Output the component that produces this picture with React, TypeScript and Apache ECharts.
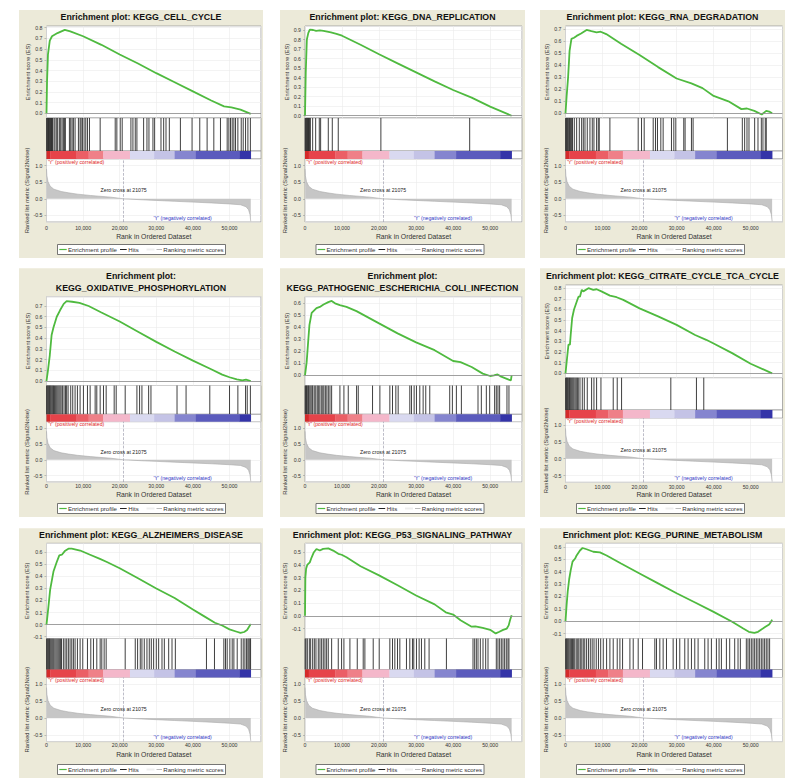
import React, { useEffect, useRef } from "react";
import * as echarts from "echarts";

// ---------------- data ----------------
const ZERO_CROSS = 21075;
const RANK_AXIS_MAX = 58600;

const pathwayTitles: string[][] = [
  ["Enrichment plot: KEGG_CELL_CYCLE"],
  ["Enrichment plot: KEGG_DNA_REPLICATION"],
  ["Enrichment plot: KEGG_RNA_DEGRADATION"],
  ["Enrichment plot:", "KEGG_OXIDATIVE_PHOSPHORYLATION"],
  ["Enrichment plot:", "KEGG_PATHOGENIC_ESCHERICHIA_COLI_INFECTION"],
  ["Enrichment plot: KEGG_CITRATE_CYCLE_TCA_CYCLE"],
  ["Enrichment plot: KEGG_ALZHEIMERS_DISEASE"],
  ["Enrichment plot: KEGG_P53_SIGNALING_PATHWAY"],
  ["Enrichment plot: KEGG_PURINE_METABOLISM"],
];

// running enrichment score: [rank (thousands), ES]
const esCellCycle = [[0,0],[0.15,0.3],[0.4,0.55],[0.9,0.68],[1.5,0.72],[3,0.75],[5,0.78],[6.5,0.765],[10,0.72],[15,0.64],[20,0.55],[25,0.465],[30,0.375],[35,0.29],[40,0.205],[45,0.12],[48.5,0.065],[50.5,0.055],[53,0.035],[55.8,-0.005]];
const esDnaReplication = [[0,0],[0.2,0.45],[0.5,0.8],[0.9,0.87],[1.3,0.905],[2.2,0.9],[3,0.89],[4,0.895],[5,0.89],[7,0.875],[8.5,0.86],[10,0.84],[15,0.745],[20,0.645],[25,0.55],[30,0.455],[35,0.36],[40,0.27],[45,0.19],[50,0.095],[55.8,0]];
const esRnaDegradation = [[0,0],[0.3,0.14],[0.7,0.3],[1.1,0.52],[1.6,0.62],[2.3,0.63],[3,0.645],[4.2,0.665],[5.7,0.695],[7,0.685],[8.4,0.675],[9.5,0.68],[11,0.66],[15,0.58],[20,0.485],[25,0.385],[30,0.29],[34,0.25],[37,0.21],[40,0.145],[44,0.1],[47.5,0.035],[49,0.04],[51,0.02],[53,-0.01],[54.2,0.02],[55,0.015],[55.8,0]];
const esOxidativePhos = [[0,0],[0.4,0.1],[0.9,0.24],[1.4,0.43],[1.9,0.5],[2.8,0.6],[3.7,0.66],[4.7,0.72],[5.5,0.745],[7,0.74],[9,0.73],[11.5,0.7],[15,0.64],[20,0.555],[25,0.46],[30,0.365],[35,0.275],[40,0.19],[45,0.11],[48,0.06],[50,0.035],[52,0.015],[53.5,0.005],[54.5,0.012],[55.8,0]];
const esEcoliInfection = [[0,0],[0.45,0.11],[0.9,0.3],[1.2,0.42],[1.8,0.52],[3.1,0.56],[4,0.57],[5,0.59],[6.3,0.61],[7.2,0.62],[8.1,0.6],[9.4,0.585],[11.2,0.57],[13.9,0.535],[20,0.433],[25,0.35],[30,0.275],[35,0.21],[40,0.12],[42,0.11],[45,0.07],[48,0.015],[50,-0.005],[51,0],[52,0.008],[53,-0.01],[55,-0.035],[55.6,-0.042],[55.8,0]];
const esCitrateCycle = [[0,0],[0.5,0.17],[0.8,0.27],[1.2,0.27],[1.4,0.36],[1.8,0.52],[2.3,0.6],[3,0.67],[3.5,0.72],[3.9,0.72],[4.4,0.785],[4.8,0.77],[6.2,0.8],[7.5,0.785],[8.4,0.79],[9.7,0.77],[12,0.73],[13.8,0.715],[15.6,0.69],[20,0.61],[25,0.535],[30,0.455],[35,0.36],[38,0.315],[40,0.28],[45,0.19],[50,0.09],[55.8,0]];
const esAlzheimers = [[0,0],[0.5,0.14],[1,0.29],[1.9,0.44],[2.8,0.52],[3.5,0.575],[4.2,0.58],[5,0.61],[6,0.63],[6.9,0.63],[9.2,0.615],[11.9,0.58],[14.6,0.545],[16.5,0.52],[20,0.468],[25,0.385],[30,0.3],[35,0.22],[40,0.125],[43,0.07],[46,0.015],[48,-0.008],[50,-0.04],[52,-0.06],[53,-0.07],[54,-0.062],[54.8,-0.045],[55.3,-0.02],[55.8,0.005]];
const esP53Signaling = [[0,0],[0.1,0.3],[0.3,0.37],[0.6,0.4],[1.3,0.42],[1.8,0.46],[2.4,0.5],[3.1,0.525],[4,0.513],[4.9,0.526],[6.3,0.53],[7.6,0.513],[9,0.487],[9.9,0.48],[11.2,0.46],[15,0.39],[20,0.318],[25,0.24],[30,0.16],[35,0.09],[38,0.028],[40,0.01],[42,-0.034],[45,-0.085],[46,-0.083],[48,-0.094],[50,-0.11],[51.5,-0.138],[52.5,-0.125],[53.5,-0.11],[54.5,-0.1],[55,-0.075],[55.4,-0.03],[55.8,0.005]];
const esPurineMetab = [[0,0],[0.3,0.13],[0.6,0.24],[1,0.34],[1.4,0.41],[1.9,0.48],[2.6,0.505],[3,0.53],[3.9,0.57],[4.6,0.59],[5.7,0.58],[7.5,0.56],[9.3,0.555],[11.1,0.53],[15,0.465],[20,0.385],[25,0.305],[30,0.225],[35,0.15],[40,0.075],[45,-0.005],[48,-0.06],[49.5,-0.086],[51,-0.095],[52,-0.086],[53,-0.065],[54,-0.046],[55,-0.027],[55.5,-0.005],[55.8,0.013]];

// gene-set hit positions (rank, thousands)
const hitsCellCycle = [0.05,0.2,0.35,0.5,0.6,0.75,0.9,1.05,1.2,1.35,1.5,1.65,2.05,2.33,2.79,3.06,3.52,3.88,4.25,4.61,4.89,5.16,6.26,6.62,6.99,7.35,7.81,8.72,9.18,9.45,9.82,10.27,10.73,11.19,11.74,14.66,18.77,19.22,20.14,20.68,23.06,23.61,24.25,24.7,26.53,27.44,27.99,29.08,29.54,31.28,32.01,32.65,33.56,36.58,39.77,41.87,43.88,45.71,47.53,49.36,49.82,50.27,50.73,51.19,51.64,52.28,53.2,53.74,54.38,55.02,55.7];
const hitsDnaReplication = [0.05,0.2,0.35,0.5,0.65,0.8,0.95,1.1,1.25,1.45,2.07,2.88,3.86,4.22,6.29,7.37,8.98,20.49,44.47];
const hitsRnaDegradation = [0.05,0.2,0.35,0.5,0.7,0.9,1.1,1.3,1.5,1.7,1.9,2.38,3.01,3.73,4.36,4.81,5.26,5.88,6.6,7.23,7.68,8.4,8.85,9.12,11.99,19.63,20.53,21.25,23.68,24.3,24.84,25.74,26.37,28.62,29.25,29.79,31.94,32.3,34.01,34.46,43.72,47.75,48.38,49.01,49.55,51.08,51.98,52.88,53.32,53.95,54.22];
const hitsOxidativePhos = [0.05,0.2,0.4,0.6,0.8,1.0,1.2,1.45,1.7,1.9,2.2,2.5,2.8,3.1,3.4,3.7,4.0,4.4,4.8,5.2,5.5,5.9,6.62,7.17,7.81,8.45,9.18,10.09,11.19,11.92,13.29,13.74,14.66,15.57,16.3,18.49,19.04,21.5,24.7,25.43,26.07,27.9,28.54,35.66,38.13,44.61,50,52.28,54.38,54.84,55.7];
const hitsEcoliInfection = [0.05,0.2,0.4,0.6,0.85,1.0,1.3,1.6,1.9,2.1,2.5,2.9,3.3,3.6,4.0,4.4,4.8,5.1,5.5,5.9,6.3,6.74,7.19,9.43,10.51,11.68,13.93,14.38,18.24,20.22,22.91,23.63,24.53,25.16,28.3,28.75,29.47,30.1,31.0,31.9,32.61,33.69,39.08,39.8,40.88,42.23,46.72,47.62,48.97,49.87,51.21,51.66,52.11,52.56,54.54,55.08];
const hitsCitrateCycle = [0.05,0.2,0.35,0.5,0.7,0.9,1.1,1.3,1.55,1.8,2.05,2.3,2.6,2.9,3.2,3.45,3.91,4.54,5.08,5.88,7.05,7.68,8.4,9.57,12.89,13.97,15.14,28.44,35.36,37.34];
const hitsAlzheimers = [0.05,0.2,0.4,0.6,0.8,1.0,1.25,1.5,1.75,2.0,2.3,2.6,2.9,3.2,3.5,3.8,4.1,4.61,5.07,5.52,5.98,6.44,6.9,7.35,7.81,8.45,9.18,9.91,11.19,12.1,12.83,13.74,14.66,15.11,15.75,16.3,21.5,24.25,24.89,25.62,26.07,26.71,27.44,28.08,28.63,29.27,30,30.64,31.55,32.19,33.38,34.29,35.2,43.7,45.89,48.45,48.9,49.36,50.09,50.73,51.19,52.1,53.2,53.74,54.2,54.66,55.02,55.3,55.57,55.75];
const hitsP53Signaling = [0.05,0.27,0.63,1.17,1.53,2.07,2.52,2.96,3.59,4.04,4.49,4.94,5.39,5.84,6.29,7.19,8.98,9.88,10.51,12.13,14.11,15.72,16.17,18.42,20.04,22.91,23.63,24.26,24.98,25.61,27.4,28.3,29.02,29.38,30.1,30.82,31.45,32.35,33.51,38.19,45.37,45.82,46.27,46.72,47.35,48.07,48.79,49.42,51.66,52.11,52.56,53.01,53.46,53.91,54.36,54.81,55.08];
const hitsPurineMetab = [0.05,0.25,0.5,0.75,1.0,1.3,1.6,1.9,2.2,2.5,2.9,3.3,3.6,4.0,4.4,4.8,5.2,5.7,6.2,6.7,7.2,7.7,8.3,8.9,9.5,10.2,11.1,11.99,12.89,13.97,14.69,15.41,17.39,18.29,19.63,20.8,24.12,24.57,25.47,26.37,27.27,29.07,29.97,30.86,32.21,33.11,34.01,34.91,35.81,37.6,38.5,39.4,40.75,41.47,42.1,43.45,44.34,45.69,46.59,47.22,48.83,49.28,49.73,50.18,50.63,51.08,51.53,51.98,52.43,52.88,53.32,53.77,54.22,54.67,55.12];

const esSeries = [esCellCycle, esDnaReplication, esRnaDegradation, esOxidativePhos, esEcoliInfection, esCitrateCycle, esAlzheimers, esP53Signaling, esPurineMetab];
const hitSeries = [hitsCellCycle, hitsDnaReplication, hitsRnaDegradation, hitsOxidativePhos, hitsEcoliInfection, hitsCitrateCycle, hitsAlzheimers, hitsP53Signaling, hitsPurineMetab];

// ES axis range [min, max] per panel
const esAxisRanges = [[-0.044, 0.816],[-0.024, 0.942],[-0.039, 0.7275],[-0.042, 0.787],[-0.084, 0.655],[-0.041, 0.83],[-0.116, 0.675],[-0.178, 0.57],[-0.14, 0.628]];

// ranked list metric (signal2noise): [rank (thousands), value]
const metricScores = [[0,0.9],[0.1,0.7],[0.4,0.52],[1,0.38],[2,0.29],[4,0.22],[6,0.18],[8.5,0.14],[12,0.1],[17.5,0.05],[21.075,0],[26,-0.03],[30,-0.05],[35,-0.075],[40,-0.1],[45,-0.125],[50,-0.155],[53,-0.18],[54.5,-0.24],[55.2,-0.33],[55.6,-0.48],[55.8,-0.68]];

// heat bar band edges (rank, thousands)
const bandEdges = [0, 1.0, 8.2, 11.5, 15.5, 22.8, 29.4, 35.0, 40.8, 52.7, 55.8];

const legendLabels = ["Enrichment profile", "Hits", "Ranking metric scores"];
const posLabel = "'Y' (positively correlated)";
const negLabel = "'Y' (negatively correlated)";
const zeroLabel = `Zero cross at ${ZERO_CROSS}`;
const esAxisName = "Enrichment score (ES)";
const metricAxisName = "Ranked list metric (Signal2Noise)";
const rankAxisName = "Rank in Ordered Dataset";

// ---------------- styles / layout ----------------
const bandColors = ["#d42a2a", "#e6434a", "#eb5f66", "#ef8088", "#f4b7ca", "#d9d9f0", "#c4c3e6", "#8585cf", "#5b5bbd", "#3434a8"];
const GREEN = "#4fba3f";
const FONT = "Liberation Sans, Arial, Helvetica, sans-serif";
const BEIGE = "#ecead9";

const colLeft = [46.5, 305, 565.5];
const colWidth = [214.5, 217, 217];
const panelCols = [[19, 263], [280, 525], [540, 785]];
const panelRows = [[10, 258], [268.3, 517], [528.3, 778]];

type Lay = { esTop: number; esBottom: number; colorTop: number; colorBottom: number; metricBottom: number; tickY: number; nameY: number; legendY: number; titleY: number[] };
const row1: Lay = { esTop: 26, esBottom: 118, colorTop: 151, colorBottom: 159, metricBottom: 222, tickY: 227.7, nameY: 236, legendY: 244.5, titleY: [16.7] };
const row2: Lay = { esTop: 296.7, esBottom: 385.5, colorTop: 414.3, colorBottom: 421.7, metricBottom: 482, tickY: 486.3, nameY: 494.3, legendY: 503.5, titleY: [275.7, 288.3] };
const row2c3: Lay = { esTop: 285, esBottom: 377.7, colorTop: 410, colorBottom: 418.3, metricBottom: 482.3, tickY: 486.7, nameY: 494.3, legendY: 503.5, titleY: [275.7] };
const row3: Lay = { esTop: 543.3, esBottom: 638.5, colorTop: 669.5, colorBottom: 677.5, metricBottom: 741.6, tickY: 745.3, nameY: 754.3, legendY: 764.5, titleY: [535] };
const layouts: Lay[] = [row1, row1, row1, row2, row2, row2c3, row3, row3, row3];

const fmtTenth = (v: number) => {
  const r = Math.round(v * 10) / 10;
  return Math.abs(v - r) < 1e-6 ? r.toFixed(1) : "";
};
const fmtHalf = (v: number) => {
  const r = Math.round(v * 2) / 2;
  return Math.abs(v - r) < 1e-6 ? r.toFixed(1) : "";
};
const fmtRank = (v: number) => {
  if (Math.abs(v % 10000) > 1e-6 || v > 50000) return "";
  return String(Math.round(v)).replace(/\B(?=(\d{3})+(?!\d))/g, ",");
};

const renderHit = (params: any, api: any) => {
  const cs = params.coordSys;
  const x = api.coord([api.value(0), 0.5])[0];
  return {
    type: "line",
    shape: { x1: x, y1: cs.y, x2: x, y2: cs.y + cs.height },
    style: { stroke: "#2a2a2a", lineWidth: 0.9 },
  };
};
const renderBand = (params: any, api: any) => {
  const cs = params.coordSys;
  const x0 = api.coord([api.value(0), 0.5])[0];
  const x1 = api.coord([api.value(1), 0.5])[0];
  return {
    type: "rect",
    shape: { x: x0, y: cs.y, width: x1 - x0 + 0.3, height: cs.height },
    style: { fill: api.visual("color") },
  };
};

function txt(text: string, x: number, y: number, size: number, opts: any = {}) {
  const align = opts.align || "left";
  return {
    type: "text",
    z: 20,
    style: {
      text, x, y,
      fill: opts.fill || "#333",
      fontSize: size,
      fontFamily: FONT,
      fontWeight: opts.bold ? "bold" : "normal",
      align, textAlign: align,
      verticalAlign: "middle", textVerticalAlign: "middle",
    },
  };
}

function buildOption() {
  const grid: any[] = [];
  const xAxis: any[] = [];
  const yAxis: any[] = [];
  const series: any[] = [];
  const graphic: any[] = [];

  // beige panels
  panelRows.forEach(([t, b]) => {
    panelCols.forEach(([l, r]) => {
      graphic.push({ type: "rect", z: -10, shape: { x: l, y: t, width: r - l, height: b - t }, style: { fill: BEIGE } });
    });
  });

  const gridBase = { show: true, backgroundColor: "#fff", borderColor: "#9a9a9a", borderWidth: 0.8, outerBoundsMode: "none", containLabel: false };
  const faint = { show: true, lineStyle: { color: "#ebebeb", width: 0.6 } };

  pathwayTitles.forEach((titleLines, i) => {
    const col = i % 3;
    const L = colLeft[col];
    const W = colWidth[col];
    const lay = layouts[i];
    const g = i * 4;
    const [esMin, esMax] = esAxisRanges[i];

    grid.push(
      { ...gridBase, left: L, top: lay.esTop, width: W, height: lay.esBottom - lay.esTop },
      { ...gridBase, left: L, top: lay.esBottom, width: W, height: lay.colorTop - lay.esBottom },
      { ...gridBase, left: L, top: lay.colorTop, width: W, height: lay.colorBottom - lay.colorTop },
      { ...gridBase, left: L, top: lay.colorBottom, width: W, height: lay.metricBottom - lay.colorBottom }
    );

    for (let k = 0; k < 4; k++) {
      const isMetric = k === 3;
      xAxis.push({
        type: "value",
        gridIndex: g + k,
        min: 0,
        max: RANK_AXIS_MAX,
        interval: 10000,
        axisLine: { show: false },
        axisTick: { show: false },
        splitLine: k === 0 || k === 3 ? faint : { show: false },
        axisLabel: isMetric
          ? { show: true, fontSize: 5.2, color: "#333", fontFamily: FONT, margin: Math.max(0.5, lay.tickY - lay.metricBottom - 2.6), formatter: fmtRank }
          : { show: false },
        name: isMetric ? rankAxisName : "",
        nameLocation: "middle",
        nameGap: lay.nameY - lay.metricBottom - 3.5,
        nameTextStyle: { fontSize: 6.8, color: "#333", fontFamily: FONT },
      });
    }

    yAxis.push(
      {
        type: "value", gridIndex: g, min: esMin, max: esMax, splitNumber: 8,
        axisLine: { show: false },
        axisTick: { show: true, length: 2, lineStyle: { color: "#999", width: 0.6 } },
        splitLine: faint,
        axisLabel: { fontSize: 5.2, color: "#333", fontFamily: FONT, margin: 4, formatter: fmtTenth, showMinLabel: false, showMaxLabel: false },
        name: esAxisName, nameLocation: "middle", nameGap: 14,
        nameTextStyle: { fontSize: 5.6, color: "#333", fontFamily: FONT },
      },
      { type: "value", gridIndex: g + 1, min: 0, max: 1, show: false },
      { type: "value", gridIndex: g + 2, min: 0, max: 1, show: false },
      {
        type: "value", gridIndex: g + 3, min: -0.7, max: 1.2, splitNumber: 4,
        axisLine: { show: false },
        axisTick: { show: true, length: 2, lineStyle: { color: "#999", width: 0.6 } },
        splitLine: faint,
        axisLabel: { fontSize: 5.2, color: "#333", fontFamily: FONT, margin: 4, formatter: fmtHalf, showMinLabel: false, showMaxLabel: false },
        name: metricAxisName, nameLocation: "middle", nameGap: 16,
        nameTextStyle: { fontSize: 5.8, color: "#333", fontFamily: FONT },
      }
    );

    // enrichment profile
    series.push({
      type: "line",
      xAxisIndex: g, yAxisIndex: g,
      data: esSeries[i].map(([r, v]) => [r * 1000, v]),
      showSymbol: false, symbol: "none",
      lineStyle: { color: GREEN, width: 1.8 },
      z: 4,
      markLine: {
        silent: true, symbol: ["none", "none"], animation: false,
        label: { show: false },
        lineStyle: { color: "#8a8a8a", width: 0.8, type: "solid" },
        data: [{ yAxis: 0 }],
      },
    });

    // hits
    series.push({
      type: "custom",
      xAxisIndex: g + 1, yAxisIndex: g + 1,
      data: hitSeries[i].map((r) => [r * 1000, 0.5]),
      encode: { x: 0, y: 1 },
      renderItem: renderHit,
      silent: true,
    });

    // heat bar
    const bands = bandColors.map((c, b) => ({ value: [bandEdges[b] * 1000, bandEdges[b + 1] * 1000, 0.5], itemStyle: { color: c } }));
    series.push({
      type: "custom",
      xAxisIndex: g + 2, yAxisIndex: g + 2,
      data: bands,
      encode: { x: [0, 1], y: 2 },
      renderItem: renderBand,
      silent: true,
    });

    // ranked list metric
    const markLabel = (text: string, coord: number[], position: string, color: string) => ({
      coord, value: 0, symbol: "circle", symbolSize: 1,
      itemStyle: { color: "rgba(0,0,0,0)" },
      label: { show: true, formatter: text, position, distance: 0, fontSize: 5.2, color, fontFamily: FONT },
    });
    series.push({
      type: "line",
      xAxisIndex: g + 3, yAxisIndex: g + 3,
      data: metricScores.map(([r, v]) => [r * 1000, v]),
      showSymbol: false, symbol: "none",
      lineStyle: { color: "#a9a9a9", width: 0.6 },
      areaStyle: { color: "#c6c6c6", opacity: 1 },
      markLine: {
        silent: true, symbol: ["none", "none"], animation: false,
        label: { show: false },
        lineStyle: { color: "#a0a0b0", width: 0.7, type: "dashed" },
        data: [{ xAxis: ZERO_CROSS }],
      },
      markPoint: {
        silent: true, animation: false,
        data: [
          markLabel(posLabel, [300, 1.12], "right", "#e02626"),
          markLabel(zeroLabel, [ZERO_CROSS, 0.26], "inside", "#222"),
          markLabel(negLabel, [45300, -0.57], "left", "#2f35c4"),
        ],
      },
    });

    // title
    const pc = panelCols[col];
    const cx = (pc[0] + pc[1]) / 2;
    titleLines.forEach((line, li) => {
      graphic.push(txt(line, cx, lay.titleY[li], 8.8, { bold: true, align: "center", fill: "#111" }));
    });

    // legend
    const ly = lay.legendY;
    const cy = ly + 5;
    graphic.push({ type: "rect", z: 18, shape: { x: L + 11, y: ly, width: 168, height: 10 }, style: { fill: "#fff", stroke: "#555", lineWidth: 0.8 } });
    graphic.push({ type: "line", z: 19, shape: { x1: L + 12.8, y1: cy, x2: L + 20.2, y2: cy }, style: { stroke: GREEN, lineWidth: 1.2 } });
    graphic.push(txt(legendLabels[0], L + 21.4, cy, 6.1));
    graphic.push({ type: "line", z: 19, shape: { x1: L + 73.5, y1: cy, x2: L + 80.2, y2: cy }, style: { stroke: "#222", lineWidth: 1 } });
    graphic.push(txt(legendLabels[1], L + 81.8, cy, 6.1));
    graphic.push({ type: "line", z: 19, shape: { x1: L + 100, y1: cy, x2: L + 108, y2: cy }, style: { stroke: "#eeeeee", lineWidth: 2 } });
    graphic.push({ type: "line", z: 19, shape: { x1: L + 110, y1: cy, x2: L + 115.5, y2: cy }, style: { stroke: "#bbbbbb", lineWidth: 1 } });
    graphic.push(txt(legendLabels[2], L + 116.8, cy, 6.1));
  });

  return {
    animation: false,
    backgroundColor: "#ffffff",
    textStyle: { fontFamily: FONT },
    grid, xAxis, yAxis, series, graphic,
  };
}

export default function App() {
  const ref = useRef<HTMLDivElement>(null);
  useEffect(() => {
    if (!ref.current) return;
    const chart = echarts.init(ref.current, undefined, { renderer: "svg" });
    chart.setOption(buildOption() as any);
    return () => chart.dispose();
  }, []);
  return <div ref={ref} style={{ position: "absolute", left: 0, top: 0, width: 800, height: 780 }} />;
}
